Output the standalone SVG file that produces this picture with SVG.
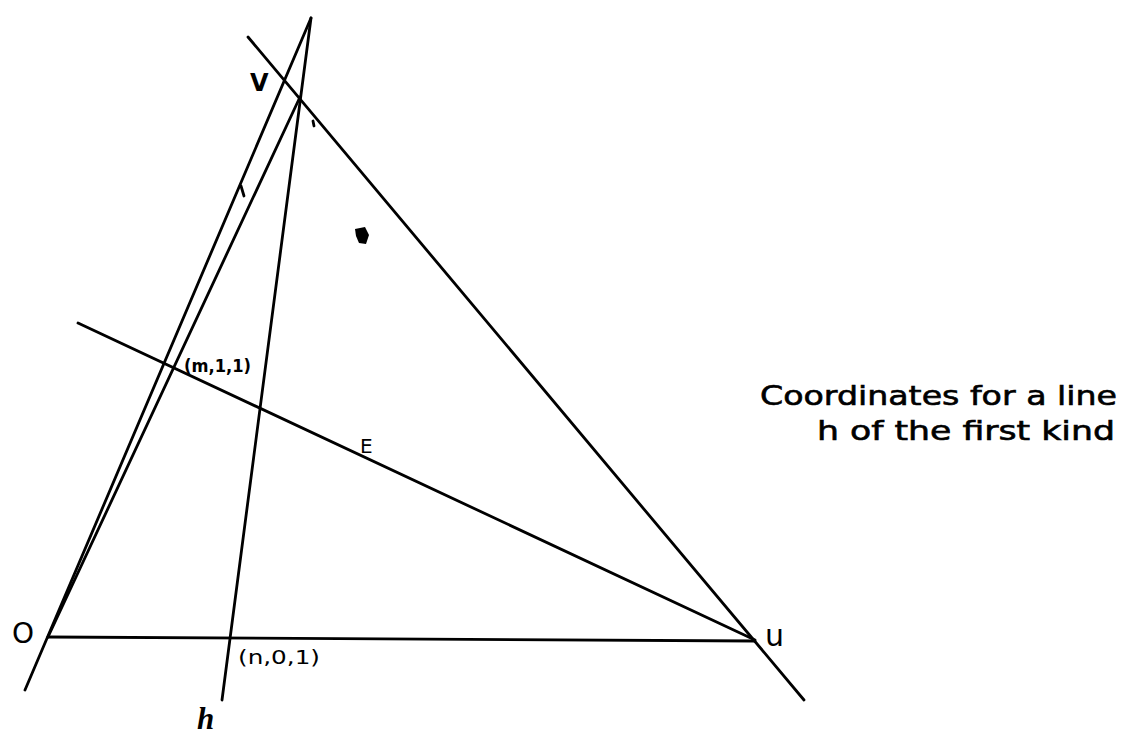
<svg xmlns="http://www.w3.org/2000/svg" width="1136" height="740" viewBox="0 0 1136 740">
<style>
.ln{stroke:#000;stroke-width:2.8;fill:none;stroke-linecap:round}
.lb{font-family:"DejaVu Sans","Liberation Sans",sans-serif;fill:#000}
.cap{font-family:"DejaVu Sans","Liberation Sans",sans-serif;fill:#000;font-size:27px;stroke:#000;stroke-width:0.6}
</style>
<rect width="1136" height="740" fill="#fff"/>
<g id="connectors">
<line class="ln" x1="25" y1="690" x2="311" y2="18"/>
<line class="ln" x1="48" y1="637" x2="300" y2="97"/>
<line class="ln" x1="311" y1="18" x2="222" y2="700"/>
<line class="ln" x1="248" y1="37" x2="804" y2="700"/>
<line class="ln" x1="48" y1="637" x2="755" y2="641"/>
<line class="ln" x1="78" y1="323" x2="755" y2="640"/>
<line class="ln" x1="241" y1="186" x2="244" y2="196" stroke-width="1.5"/>
<line class="ln" x1="313" y1="121" x2="314" y2="126" stroke-width="1.5"/>
</g>
<g id="node-V"><text class="lb" x="250" y="91" font-size="24" font-weight="bold">V</text></g>
<g id="node-O"><text class="lb" x="12" y="643" font-size="28">O</text></g>
<g id="node-U"><text class="lb" x="765" y="646" font-size="30">u</text></g>
<g id="node-E"><text class="lb" x="360" y="453" font-size="20">E</text></g>
<g id="node-m11"><text class="lb" x="184" y="372" font-size="17" font-weight="bold" textLength="67" lengthAdjust="spacingAndGlyphs">(m,1,1)</text></g>
<g id="node-n01"><text class="lb" x="238" y="664" font-size="19" textLength="82" lengthAdjust="spacingAndGlyphs">(n,0,1)</text></g>
<g id="node-h"><text x="197" y="729" font-family="Liberation Serif,serif" font-style="italic" font-weight="bold" font-size="31">h</text></g>
<g id="blot"><path d="M355,229 L365,227 L369,235 L366,244 L359,243 L356,236 Z" fill="#000"/></g>
<g id="caption">
<text class="cap" x="760" y="405" textLength="357" lengthAdjust="spacingAndGlyphs">Coordinates for a line</text>
<text class="cap" x="817" y="440" textLength="298" lengthAdjust="spacingAndGlyphs">h of the first kind</text>
</g>
</svg>
